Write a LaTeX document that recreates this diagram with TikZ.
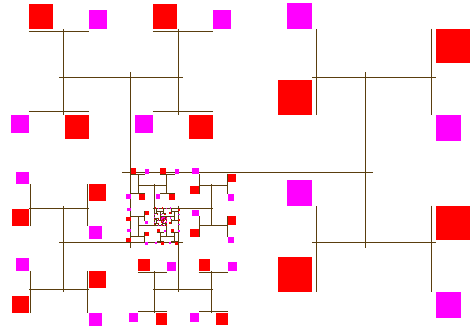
\documentclass[tikz,border=0pt]{standalone}
\usepackage{tikz}
\definecolor{bark}{HTML}{5A3E0E}
\definecolor{leafred}{HTML}{FF0000}
\definecolor{leafpink}{HTML}{FF00FF}

% one twig: unit length on the local x axis, drawn a bit longer
\newcommand\twigseg{\draw[twig] (-0.535,0) -- (0.535,0);}
% squares at the two ends of a last twig
\newcommand\twigleaves{%
  \fill[redleaf] (-0.535,0.05) rectangle (-0.105,0.48);
  \fill[pinkleaf] (0.535,0.05) rectangle (0.855,0.37);}
% child frames at the two ends
\newcommand\branchR[1]{\begin{scope}[shift={(0.5,0)},rotate=-90,scale=0.7,shift={(-0.078,0)}]#1\end{scope}}
\newcommand\branchL[1]{\begin{scope}[shift={(-0.5,0)},rotate=90,scale=0.7,shift={(0.078,0)}]#1\end{scope}}
% full tree, #1 levels
\newcommand\fulltree[1]{%
  \twigseg
  \ifnum#1>1
    \branchR{\fulltree{\the\numexpr#1-1\relax}}%
    \branchL{\fulltree{\the\numexpr#1-1\relax}}%
  \else
    \twigleaves
  \fi}
% spiral: full tree on one side, spiral again on the other
\newcommand\spiraltree[1]{%
  \twigseg
  \branchR{\fulltree{3}}%
  \ifnum#1>0
    \branchL{\spiraltree{\the\numexpr#1-1\relax}}%
  \fi}

\begin{document}
\begin{tikzpicture}[x=235pt,y=235pt,
  twig/.style={draw=bark,line width=1pt},
  redleaf/.style={fill=leafred},
  pinkleaf/.style={fill=leafpink}]
  \useasboundingbox (0,0) rectangle (471pt,329pt);
  \begin{scope}[shift={(247.5pt,156pt)}]
    \spiraltree{14}
  \end{scope}
\end{tikzpicture}
\end{document}
